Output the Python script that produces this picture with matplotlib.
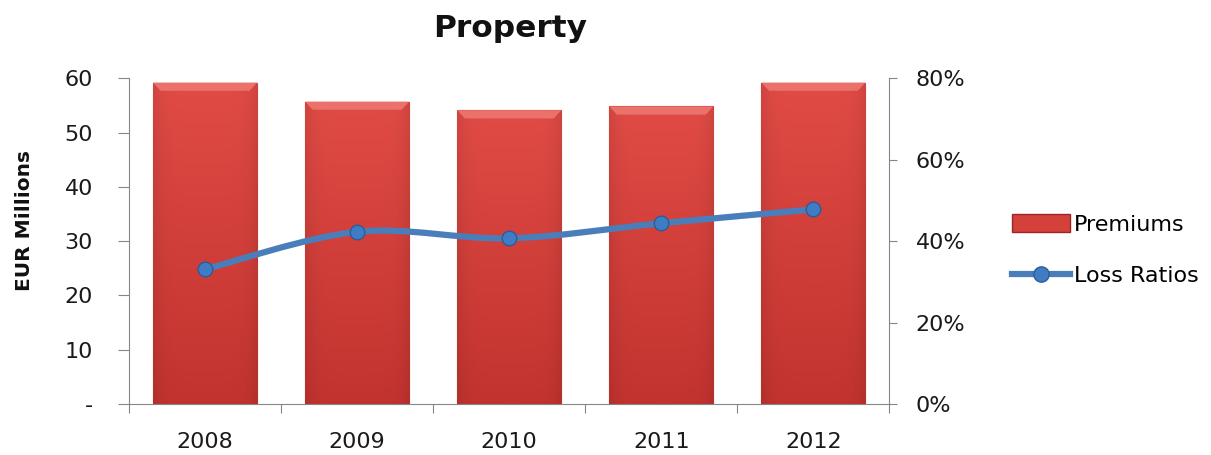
import numpy as np
import matplotlib.pyplot as plt
from matplotlib.path import Path
from matplotlib.patches import PathPatch, Patch, Polygon
from matplotlib.lines import Line2D
from matplotlib.colors import to_rgb

years = ['2008', '2009', '2010', '2011', '2012']
premiums = [59.2, 55.7, 54.1, 54.8, 59.2]
loss_ratios = [0.331, 0.423, 0.407, 0.444, 0.478]

left_ticks = [0, 10, 20, 30, 40, 50, 60]
left_labels = ['-', '10', '20', '30', '40', '50', '60']
right_ticks = [0, 0.2, 0.4, 0.6, 0.8]
right_labels = ['0%', '20%', '40%', '60%', '80%']

axis_grey = '#868686'
text_col = '#1a1a1a'
bar_red = '#d4403a'
line_blue = '#4a7ebb'

fig = plt.figure(figsize=(12.11, 4.55), dpi=100)
ax = fig.add_axes([0.1065, 0.112, 0.628, 0.716])
x = np.arange(len(years))

bars = ax.bar(x, premiums, width=0.684, color=bar_red, edgecolor='#9c2626',
              linewidth=0.8, zorder=2)

# vertical shading, lighter at the top, slightly darker towards the sides
top_c = np.array(to_rgb('#e14b45'))
bot_c = np.array(to_rgb('#c2332f'))
ty = np.linspace(1, 0, 100)[:, None, None]
tx = np.linspace(-1, 1, 60)[None, :, None]
shade = (bot_c + (top_c - bot_c) * ty) * (1 - 0.08 * tx ** 6)
for b in bars:
    x0, w, h = b.get_x(), b.get_width(), b.get_height()
    im = ax.imshow(shade, aspect='auto', extent=(x0, x0 + w, 0, h), zorder=2.1)
    im.set_clip_path(b)
    # bevelled top edge
    d = 0.05
    bevel = Polygon([(x0, h), (x0 + w, h), (x0 + w - d, h - 1.5), (x0 + d, h - 1.5)],
                    closed=True, facecolor='#ea726b', edgecolor='none', zorder=2.2)
    ax.add_patch(bevel)

ax.set_xlim(-0.5, len(years) - 0.5)
ax.set_ylim(0, 60)

for s in ['top', 'right']:
    ax.spines[s].set_visible(False)
for s in ['left', 'bottom']:
    ax.spines[s].set_color(axis_grey)

ax.set_yticks(left_ticks)
ax.set_yticklabels(left_labels)
ax.tick_params(axis='y', direction='out', length=8, color=axis_grey,
               labelsize=16, labelcolor=text_col, pad=18)

ax.set_xticks(np.arange(-0.5, len(years), 1))
ax.set_xticklabels([])
ax.set_xticks(x, minor=True)
ax.set_xticklabels(years, minor=True)
ax.tick_params(axis='x', which='major', direction='out', length=6.5, color=axis_grey)
ax.tick_params(axis='x', which='minor', length=0, pad=20, labelsize=16,
               labelcolor=text_col)

ax2 = ax.twinx()
ax2.set_ylim(0, 0.8)
for s in ['top', 'left', 'bottom']:
    ax2.spines[s].set_visible(False)
ax2.spines['right'].set_color(axis_grey)
ax2.set_yticks(right_ticks)
ax2.set_yticklabels(right_labels)
ax2.tick_params(axis='y', direction='out', length=6, color=axis_grey,
                labelsize=16, labelcolor=text_col, pad=13)

# smoothed line through the loss ratios (cubic Bezier segments)
pts = np.column_stack([x, loss_ratios]).astype(float)
ext = np.vstack([pts[0], pts, pts[-1]])
verts = [pts[0]]
codes = [Path.MOVETO]
for i in range(len(pts) - 1):
    p0, p1, p2, p3 = ext[i], ext[i + 1], ext[i + 2], ext[i + 3]
    c1 = p1 + (p2 - p0) / 6
    c2 = p2 - (p3 - p1) / 6
    verts += [c1, c2, p2]
    codes += [Path.CURVE4] * 3
ax2.add_patch(PathPatch(Path(verts, codes), fill=False, edgecolor=line_blue,
                        linewidth=4.5, capstyle='round', zorder=3))
ax2.plot(x, loss_ratios, linestyle='none', marker='o', markersize=10.5,
         markerfacecolor='#3f7cc4', markeredgecolor='#2a5d9a',
         markeredgewidth=1, zorder=4)

fig.text(0.421, 0.938, 'Property', ha='center', va='center', fontsize=22.5,
         fontweight='bold', color='#111111')
fig.text(0.020, 0.516, 'EUR Millions', ha='center', va='center', rotation=90,
         fontsize=14.5, fontweight='bold', color='#111111')

handles = [
    Patch(facecolor=bar_red, edgecolor='#9c2626'),
    Line2D([], [], color=line_blue, linewidth=4.5, marker='o', markersize=11,
           markerfacecolor='#3f7cc4', markeredgecolor='#2a5d9a'),
]
fig.legend(handles, ['Premiums', 'Loss Ratios'], loc='center left',
           bbox_to_anchor=(0.836, 0.450), frameon=False, fontsize=16,
           handlelength=2.6, handleheight=0.85, handletextpad=0.15,
           labelspacing=1.4, borderaxespad=0, borderpad=0)

fig.savefig('out.png', dpi=100)
